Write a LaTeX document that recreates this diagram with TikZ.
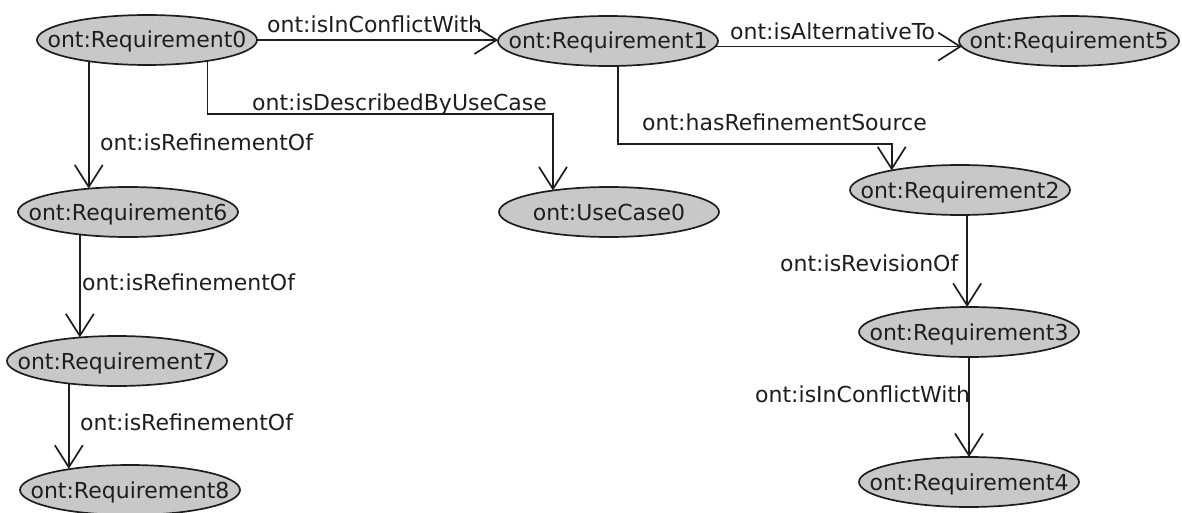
\documentclass[tikz,border=0pt]{standalone}
\usepackage{fontspec}
\setmainfont{DejaVu Sans}
\usetikzlibrary{arrows.meta,shapes.geometric,backgrounds}
\definecolor{nodefill}{RGB}{200,200,200}
\definecolor{ink}{RGB}{30,30,30}
\newcommand{\olabel}[1]{\raisebox{-8pt}[0pt][0pt]{\makebox[0pt]{#1}}}
\tikzset{
  onto/.style={ellipse, draw=ink, line width=1.7pt, fill=nodefill,
    minimum width=220pt, minimum height=50pt, inner sep=0pt, outer sep=0pt,
    text=ink, font=\fontsize{22pt}{26pt}\selectfont},
  rel/.style={draw=ink, line width=1.7pt, -{Straight Barb[length=22pt,width=28pt]}},
  lbl/.style={anchor=base west, inner sep=0pt, text=ink, font=\fontsize{22pt}{26pt}\selectfont},
}
\begin{document}
\begin{tikzpicture}[x=1pt,y=-1pt]
\useasboundingbox (0,0) rectangle (1182,513);
% nodes
\node[onto] (r0) at (147,40) {\olabel{ont:Requirement0}};
\node[onto] (r1) at (608,41) {\olabel{ont:Requirement1}};
\node[onto] (r5) at (1069,41) {\olabel{ont:Requirement5}};
\node[onto] (r6) at (128,212) {\olabel{ont:Requirement6}};
\node[onto] (uc) at (609,212) {\olabel{ont:UseCase0}};
\node[onto] (r2) at (960,190) {\olabel{ont:Requirement2}};
\node[onto] (r3) at (969,332) {\olabel{ont:Requirement3}};
\node[onto] (r4) at (969,482) {\olabel{ont:Requirement4}};
\node[onto] (r7) at (117,361) {\olabel{ont:Requirement7}};
\node[onto] (r8) at (130,490) {\olabel{ont:Requirement8}};
% bend levels
\coordinate (b1) at (0,114);
\coordinate (b2) at (0,144);
% connectors
\begin{scope}[on background layer]
\fill[white] (0,0) rectangle (1182,513);
\draw[rel] (r0.east) -- (r0.east -| r1.west);
\draw[rel] (r1.-3.8) -- (r1.-3.8 -| r5.183.8);
\draw[rel] (r0.-19.25) |- (uc.159.4 |- b1) -- (uc.159.4);
\draw[rel] (r0.200.6) -- (r0.200.6 |- r6.148.3);
\draw[rel] (r1.-68.1) |- (r2.164.9 |- b2) -- (r2.164.9);
\draw[rel] (r2.-74.3) -- (r2.-74.3 |- r3.north);
\draw[rel] (r3.south) -- (r4.north);
\draw[rel] (r6.205.1) -- (r6.205.1 |- r7.147.6);
\draw[rel] (r7.205.7) -- (r7.205.7 |- r8.160.75);
\end{scope}
% labels
\node[lbl] (l1) at (267,33) {ont:isInConflictWith};
\node[lbl] (l2) at (730,40) {ont:isAlternativeTo};
\node[lbl] (l3) at (252,111) {ont:isDescribedByUseCase};
\node[lbl] (l4) at (100,151) {ont:isRefinementOf};
\node[lbl] (l5) at (642,131) {ont:hasRefinementSource};
\node[lbl] (l6) at (780,271) {ont:isRevisionOf};
\node[lbl] (l7) at (755,402) {ont:isInConflictWith};
\node[lbl] (l8) at (82,290) {ont:isRefinementOf};
\node[lbl] (l9) at (80,430) {ont:isRefinementOf};
\end{tikzpicture}
\end{document}
